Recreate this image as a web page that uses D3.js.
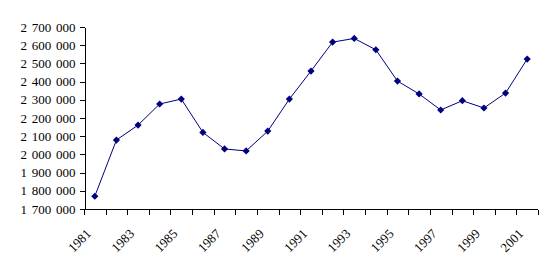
<!DOCTYPE html>
<html>
<head>
<meta charset="utf-8">
<script src="https://cdn.jsdelivr.net/npm/d3@7"></script>
<style>
  body { margin: 0; background: #fff; }
  svg { display: block; }
  .axis text { font-family: "Liberation Serif", "Times New Roman", serif; font-size: 13px; fill: #000; }
  .axis path, .axis line { stroke: #000; shape-rendering: crispEdges; }
  .yaxis text { word-spacing: 1.5px; }
</style>
</head>
<body>
<div id="chart"></div>
<script>
// years and values
const years = d3.range(1981, 2002);
const values = [
  1770000, 2079000, 2161000, 2277000, 2304000, 2121000, 2030000,
  2019000, 2128000, 2304000, 2458000, 2617000, 2637000, 2575000,
  2403000, 2332000, 2244000, 2295000, 2255000, 2337000, 2524000
];
const yTicks = d3.range(1700000, 2700001, 100000);
const xLabels = years.filter((d) => (d - 1981) % 2 === 0);

const width = 553;
const height = 271;
const margin = { top: 27, right: 15, bottom: 62, left: 84 };

const svg = d3
  .select("#chart")
  .append("svg")
  .attr("width", width)
  .attr("height", height);

const x = d3
  .scaleBand()
  .domain(years)
  .range([margin.left, width - margin.right]);

const y = d3
  .scaleLinear()
  .domain([1700000, 2700000])
  .range([height - margin.bottom, margin.top]);

const fmt = d3.formatLocale({ thousands: " ", grouping: [3], decimal: ",", currency: ["", ""] }).format(",");

// --- Y axis ---
svg
  .append("g")
  .attr("class", "axis yaxis")
  .attr("transform", `translate(${margin.left + 0.5},0)`)
  .call(d3.axisLeft(y).tickValues(yTicks).tickFormat(fmt).tickSize(5).tickSizeOuter(0).tickPadding(4));

// --- X axis: line and ticks at category boundaries ---
const xAxis = svg
  .append("g")
  .attr("class", "axis")
  .attr("transform", `translate(0,${height - margin.bottom + 0.5})`);

xAxis
  .append("line")
  .attr("x1", margin.left)
  .attr("x2", width - margin.right)
  .attr("y1", 0)
  .attr("y2", 0);

const bounds = years.map((d) => x(d)).concat([x.range()[1]]);
xAxis
  .selectAll(".bound")
  .data(bounds)
  .join("line")
  .attr("class", "bound")
  .attr("x1", (d) => Math.round(d) + 0.5)
  .attr("x2", (d) => Math.round(d) + 0.5)
  .attr("y1", 0)
  .attr("y2", 5);

// rotated labels, every second year
xAxis
  .selectAll(".lbl")
  .data(xLabels)
  .join("text")
  .attr("class", "lbl")
  .attr("text-anchor", "end")
  .attr("transform", (d) => `translate(${x(d) + x.bandwidth() / 2 - 3},${25}) rotate(-45)`)
  .text((d) => d);

// --- Line and markers ---
const pts = years.map((d, i) => [x(d) + x.bandwidth() / 2, y(values[i])]);

svg
  .append("path")
  .datum(pts)
  .attr("fill", "none")
  .attr("stroke", "#000080")
  .attr("stroke-width", 1)
  .attr("d", d3.line());

svg
  .append("g")
  .selectAll("path")
  .data(pts)
  .join("path")
  .attr("fill", "#000080")
  .attr("d", d3.symbol(d3.symbolSquare, 26))
  .attr("transform", (d) => `translate(${d[0]},${d[1]}) rotate(45)`);
</script>
</body>
</html>
